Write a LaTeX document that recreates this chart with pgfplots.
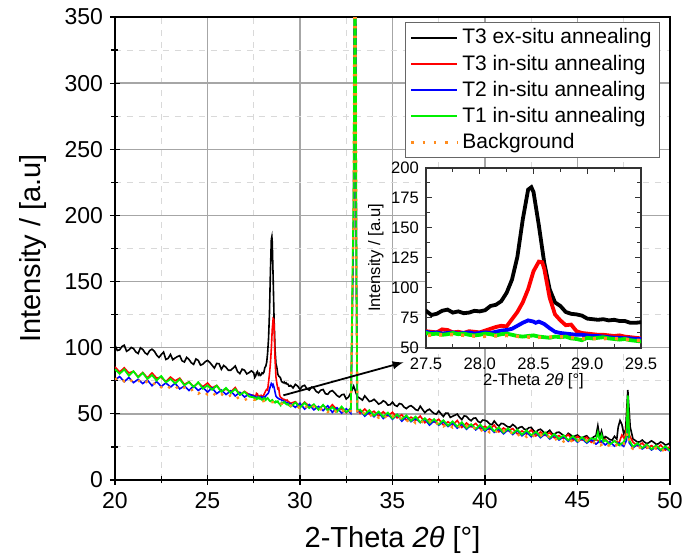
\documentclass[border=0pt]{standalone}
\usepackage{pgfplots}
\usepackage{pgfplotstable}
\pgfplotsset{compat=1.18}
\usepackage{fontspec}
\setmainfont{Liberation Sans}
\definecolor{bgorange}{RGB}{255,140,30}
\definecolor{mygreen}{RGB}{0,240,0}

\pgfplotstableread{
x y
20.000 101.8
20.125 97.9
20.250 98.4
20.375 100.9
20.500 101.9
20.625 97.3
20.750 98.4
20.875 100.2
21.000 99.4
21.125 96.8
21.250 95.6
21.375 99.9
21.500 98.7
21.625 96.1
21.750 94.9
21.875 97.8
22.000 98.9
22.125 97.4
22.250 94.5
22.375 92.6
22.500 94.8
22.625 96.7
22.750 91.1
22.875 92.0
23.000 94.9
23.125 90.9
23.250 92.2
23.375 93.3
23.500 94.0
23.625 90.1
23.750 89.2
23.875 92.7
24.000 91.1
24.125 88.6
24.250 87.4
24.375 91.5
24.500 90.4
24.625 86.8
24.750 87.6
24.875 89.4
25.000 90.4
25.125 88.9
25.250 86.7
25.375 84.6
25.500 88.1
25.625 87.9
25.750 83.7
25.875 86.6
26.000 85.2
26.125 83.0
26.250 82.9
26.375 84.5
26.500 86.2
26.625 82.0
26.750 80.4
26.875 83.8
27.000 83.0
27.125 80.2
27.250 81.2
27.375 82.5
27.50 81
27.55 77.5
27.60 78.5
27.65 81
27.70 82
27.75 79.5
27.80 80.5
27.85 79
27.90 79.5
27.95 81
28.00 80.5
28.05 81.5
28.10 85
28.15 86
28.20 89
28.25 96
28.30 107
28.35 126
28.40 157
28.45 182
28.48 184
28.50 180
28.55 152
28.60 121
28.65 99
28.70 88
28.75 85
28.80 80
28.85 78.5
28.90 78
28.95 77
29.00 74.5
29.05 74
29.10 73.5
29.15 74
29.20 73
29.25 73.5
29.30 72.5
29.35 72.5
29.40 71
29.45 71
29.50 71.5
29.625 69.6
29.750 72.3
29.875 71.0
30.000 68.5
30.125 70.9
30.250 71.6
30.375 69.0
30.500 67.9
30.625 70.2
30.750 69.5
30.875 67.0
31.000 65.9
31.125 67.9
31.250 68.4
31.375 65.2
31.500 64.8
31.625 66.9
31.750 67.6
31.875 65.8
32.000 63.9
32.125 62.7
32.250 64.4
32.375 64.8
32.500 61.2
32.625 62.8
32.750 66.0
32.900 71
33.000 67
33.100 63
33.250 61.7
33.375 60.4
33.500 63.6
33.625 61.5
33.750 59.3
33.875 59.8
34.000 61.0
34.125 59.3
34.250 57.4
34.375 58.2
34.500 59.9
34.625 58.9
34.750 56.6
34.875 56.9
35.000 58.9
35.125 56.5
35.250 55.7
35.375 57.8
35.500 57.3
35.625 55.1
35.750 54.0
35.875 55.5
36.000 56.2
36.125 54.9
36.250 53.2
36.375 52.6
36.500 55.8
36.625 53.3
36.750 50.9
36.875 52.6
37.000 53.5
37.125 51.7
37.250 50.3
37.375 49.8
37.500 52.2
37.625 50.0
37.750 48.0
37.875 50.6
38.000 50.5
38.125 47.3
38.250 48.2
38.375 49.0
38.500 49.8
38.625 47.4
38.750 45.7
38.875 48.5
39.000 48.1
39.125 46.1
39.250 44.8
39.375 46.7
39.500 46.9
39.625 44.3
39.750 43.3
39.875 45.3
40.000 45.1
40.125 44.3
40.250 42.4
40.375 41.8
40.500 44.6
40.625 42.3
40.750 40.7
40.875 42.8
41.000 42.5
41.125 41.2
41.250 40.0
41.375 40.1
41.500 42.0
41.625 40.6
41.750 38.6
41.875 39.8
42.000 40.3
42.125 38.4
42.250 38.1
42.375 39.6
42.500 39.7
42.625 37.4
42.750 36.0
42.875 37.8
43.000 38.4
43.125 36.8
43.250 35.2
43.375 36.2
43.500 37.6
43.625 35.1
43.750 34.4
43.875 35.9
44.000 36.2
44.125 34.9
44.250 33.6
44.375 33.0
44.500 35.3
44.625 34.2
44.750 32.1
44.875 33.4
45.000 34.0
45.125 32.5
45.250 31.5
45.375 32.8
45.500 33.4
45.625 31.4
45.750 31.0
45.875 32.6
46.000 33.5
46.100 41
46.200 32
46.300 37
46.400 31
46.500 32.8
46.625 31.9
46.750 30.5
46.875 30.2
47.000 33.0
47.125 30.9
47.200 40
47.300 45
47.400 42
47.500 35
47.600 38
47.720 68
47.850 40
48.000 31.0
48.125 29.9
48.250 28.6
48.375 28.9
48.500 30.2
48.625 28.6
48.750 27.5
48.875 28.4
49.000 29.6
49.125 28.5
49.250 27.0
49.375 27.4
49.500 28.8
49.625 27.9
49.750 26.4
49.875 27.0
50.000 28.0
}\blackdata

\pgfplotstableread{
x y
20.00 85.5
20.25 81.6
20.50 84.8
20.75 80.9
21.00 82.1
21.25 78.0
21.50 81.3
21.75 77.2
22.00 80.9
22.25 77.0
22.50 77.7
22.75 74.3
23.00 77.8
23.25 75.0
23.50 77.0
23.75 72.3
24.00 74.2
24.25 70.6
24.50 73.5
24.75 70.5
25.00 73.3
25.25 69.6
25.50 71.5
25.75 67.0
26.00 68.7
26.25 66.5
26.50 69.9
26.75 64.3
27.00 67.0
27.25 64.6
27.50 64
27.55 63.5
27.60 63
27.65 65.5
27.70 65
27.75 63
27.80 63.5
27.85 62.5
27.90 64
27.95 63.5
28.00 63
28.05 64.5
28.10 66
28.15 67.5
28.20 68.5
28.25 68
28.30 74
28.35 80
28.40 88
28.45 99
28.50 114
28.55 122
28.58 121.5
28.60 116
28.65 92
28.70 78
28.75 73
28.80 69
28.85 69.5
28.90 64
28.95 62.5
29.00 62
29.05 61.5
29.10 61
29.15 61
29.20 60.5
29.25 60
29.30 60.5
29.35 59.5
29.40 59
29.45 58.5
29.50 58
29.75 59.2
30.00 55.5
30.25 58.9
30.50 55.6
30.75 56.7
31.00 53.4
31.25 56.4
31.50 53.2
31.75 56.9
32.00 53.2
32.25 53.9
32.50 50.9
32.75 54.6
32.90 200
32.95 400
33.00 400
33.05 150
33.10 53.4
33.25 50.3
33.50 53.7
33.75 49.8
34.00 52.0
34.25 48.4
34.50 51.6
34.75 48.4
35.00 51.2
35.25 47.0
35.50 49.3
35.75 45.2
36.00 47.5
36.25 45.1
36.50 48.4
36.75 43.3
37.00 46.2
37.25 43.8
37.50 45.9
37.75 41.6
38.00 44.0
38.25 41.6
38.50 45.0
38.75 39.7
39.00 43.1
39.25 40.2
39.50 42.8
39.75 38.6
40.00 40.6
40.25 38.1
40.50 41.5
40.75 36.4
41.00 39.3
41.25 37.2
41.50 38.9
41.75 34.8
42.00 37.1
42.25 34.7
42.50 37.8
42.75 33.3
43.00 36.3
43.25 33.7
43.50 35.8
43.75 31.9
44.00 33.6
44.25 31.3
44.50 34.4
44.75 29.8
45.00 33.0
45.25 30.2
45.50 32.4
45.75 28.5
46.00 30.6
46.25 28.4
46.50 30.9
46.75 27.2
47.00 29.5
47.25 28.2
47.40 34
47.55 31
47.65 40
47.72 60
47.80 34
48.00 28.6
48.25 25.8
48.50 27.9
48.75 24.1
49.00 26.0
49.25 23.6
49.50 26.4
49.75 22.6
50.00 25.1
}\reddata

\pgfplotstableread{
x y
20.00 75.6
20.25 78.2
20.50 74.3
20.75 77.5
21.00 73.6
21.25 76.1
21.50 72.9
21.75 75.6
22.00 71.3
22.25 74.4
22.50 70.7
22.75 73.4
23.00 70.2
23.25 73.1
23.50 68.9
23.75 71.0
24.00 67.7
24.25 71.0
24.50 67.7
24.75 70.2
25.00 66.4
25.25 69.7
25.50 65.3
25.75 68.0
26.00 64.6
26.25 67.4
26.50 63.5
26.75 66.3
27.00 62.7
27.25 64.9
27.50 63.5
27.55 62.5
27.60 63
27.65 62
27.70 62.5
27.75 63
27.80 62
27.85 62.5
27.90 63
27.95 62
28.00 62.5
28.05 63
28.10 62.5
28.15 63.5
28.20 64.5
28.25 65
28.30 66
28.35 68.5
28.40 71
28.45 73
28.50 72
28.52 71
28.55 72
28.60 70
28.65 66.5
28.70 63.5
28.75 62.5
28.80 62
28.85 61.5
28.90 61
28.95 61
29.00 60.5
29.05 60
29.10 60
29.15 59.5
29.20 59
29.25 58.5
29.30 58.5
29.35 58
29.40 58
29.45 57.5
29.50 57.5
29.75 54.9
30.00 58.0
30.25 53.6
30.50 57.1
30.75 53.0
31.00 55.6
31.25 52.5
31.50 56.1
31.75 51.1
32.00 54.6
32.25 50.6
32.50 53.9
32.75 50.4
32.90 200
32.95 400
33.00 400
33.05 150
33.10 51.5
33.25 52.6
33.50 48.3
33.75 51.5
34.00 47.8
34.25 51.2
34.50 46.5
34.75 49.6
35.00 46.0
35.25 49.4
35.50 44.5
35.75 47.9
36.00 44.1
36.25 46.6
36.50 43.4
36.75 46.0
37.00 41.5
37.25 44.7
37.50 41.4
37.75 44.1
38.00 40.4
38.25 43.1
38.50 39.2
38.75 42.4
39.00 38.4
39.25 41.6
39.50 37.9
39.75 40.9
40.00 36.8
40.25 39.9
40.50 36.0
40.75 38.6
41.00 34.9
41.25 38.0
41.50 34.4
41.75 37.5
42.00 33.4
42.25 36.3
42.50 32.7
42.75 35.9
43.00 32.0
43.25 34.8
43.50 31.0
43.75 34.0
44.00 30.2
44.25 32.9
44.50 29.3
44.75 32.1
45.00 28.6
45.25 31.3
45.50 27.9
45.75 30.6
46.00 27.1
46.25 29.9
46.50 26.5
46.75 29.0
47.00 25.6
47.25 28.2
47.50 25.4
47.65 30
47.72 42
47.80 28
48.00 24.3
48.25 26.9
48.50 23.5
48.75 25.9
49.00 22.7
49.25 25.0
49.50 22.1
49.75 24.4
50.00 21.6
}\bluedata

\pgfplotstableread{
x y
20.00 83.7
20.25 80.3
20.50 83.6
20.75 78.9
21.00 82.2
21.25 77.6
21.50 80.9
21.75 76.4
22.00 79.3
22.25 75.2
22.50 78.6
22.75 73.8
23.00 76.4
23.25 72.9
23.50 76.2
23.75 71.6
24.00 74.0
24.25 70.2
24.50 73.9
24.75 69.1
25.00 71.5
25.25 68.2
25.50 71.3
25.75 66.6
26.00 69.6
26.25 65.8
26.50 68.7
26.75 64.4
27.00 66.6
27.25 63.1
27.50 62.5
27.55 61.5
27.60 62
27.65 61
27.70 61.5
27.75 62.5
27.80 61.5
27.85 62
27.90 61
27.95 60.5
28.00 61
28.05 62
28.10 61.5
28.15 60.5
28.20 61.5
28.25 62
28.30 61
28.35 60
28.40 59.5
28.45 60
28.50 60.5
28.55 59.5
28.60 59
28.65 58.5
28.70 59.5
28.75 59
28.80 59.5
28.85 58
28.90 57.5
28.95 56.5
29.00 58.5
29.05 58
29.10 58.5
29.15 59
29.20 58
29.25 57.5
29.30 57
29.35 57.5
29.40 56.5
29.45 56
29.50 55.5
29.75 58.6
30.00 54.8
30.25 58.3
30.50 54.4
30.75 57.2
31.00 53.1
31.25 56.8
31.50 52.5
31.75 55.1
32.00 51.6
32.25 55.5
32.50 51.3
32.75 54.0
32.90 220
32.95 400
33.00 400
33.05 160
33.10 52.9
33.25 53.2
33.50 49.4
33.75 52.8
34.00 48.6
34.25 51.7
34.50 47.7
34.75 50.9
35.00 46.6
35.25 49.5
35.50 45.9
35.75 48.8
36.00 44.7
36.25 47.9
36.50 43.6
36.75 46.7
37.00 42.9
37.25 46.0
37.50 42.0
37.75 45.2
38.00 41.1
38.25 44.3
38.50 40.4
38.75 43.6
39.00 39.2
39.25 42.1
39.50 38.6
39.75 41.8
40.00 37.8
40.25 40.9
40.50 36.9
40.75 39.7
41.00 35.8
41.25 39.0
41.50 35.2
41.75 38.1
42.00 34.3
42.25 37.5
42.50 33.8
42.75 36.5
43.00 32.9
43.25 35.9
43.50 31.8
43.75 34.8
44.00 31.0
44.25 33.8
44.50 30.1
44.75 33.2
45.00 29.4
45.25 32.3
45.50 28.8
45.75 31.6
46.00 30.5
46.10 36
46.20 30
46.30 34
46.40 29
46.50 30.2
46.75 26.9
47.00 29.6
47.25 26.2
47.50 28.8
47.65 33
47.72 64
47.80 30
48.00 25.1
48.25 27.8
48.50 24.2
48.75 26.9
49.00 23.3
49.25 26.1
49.50 22.8
49.75 25.4
50.00 22.1
}\greendata

\pgfplotstableread{
x y
20.00 76.0
20.25 77.8
20.50 74.6
20.75 76.9
21.00 73.5
21.25 75.5
21.50 72.2
21.75 74.6
22.00 71.8
22.25 73.9
22.50 70.1
22.75 72.0
23.00 69.2
23.25 71.3
23.50 67.6
23.75 69.9
24.00 66.9
24.25 68.8
24.50 65.2
24.75 67.5
25.00 64.6
25.25 66.6
25.50 63.0
25.75 65.1
26.00 62.2
26.25 64.0
26.50 61.1
26.75 63.0
27.00 60.4
27.25 62.1
27.50 60.5
27.75 61.2
28.00 59.6
28.25 60.4
28.50 58.8
28.75 59.4
29.00 57.6
29.25 58.0
29.50 56.2
29.75 57.3
30.00 53.9
30.25 56.4
30.50 53.1
30.75 55.5
31.00 52.2
31.25 54.8
31.50 51.4
31.75 54.0
32.00 50.8
32.25 53.2
32.50 49.9
32.75 52.4
32.90 200
32.95 400
33.00 400
33.05 150
33.10 51.0
33.25 48.9
33.50 51.3
33.75 48.0
34.00 50.4
34.25 47.1
34.50 49.6
34.75 46.0
35.00 48.5
35.25 45.1
35.50 47.6
35.75 44.2
36.00 46.5
36.25 43.0
36.50 45.4
36.75 42.2
37.00 44.6
37.25 41.1
37.50 43.7
37.75 40.5
38.00 42.8
38.25 39.6
38.50 41.9
38.75 38.5
39.00 41.0
39.25 37.7
39.50 40.1
39.75 36.9
40.00 39.2
40.25 36.0
40.50 38.4
40.75 34.8
41.00 37.3
41.25 34.1
41.50 36.6
41.75 33.4
42.00 35.7
42.25 32.6
42.50 35.1
42.75 31.9
43.00 34.3
43.25 31.0
43.50 33.4
43.75 30.1
44.00 32.2
44.25 29.1
44.50 31.5
44.75 28.4
45.00 30.8
45.25 27.7
45.50 30.0
45.75 26.9
46.00 29.3
46.25 26.2
46.50 28.6
46.75 25.4
47.00 27.7
47.25 24.7
47.50 27.0
47.72 36
47.85 25.5
48.00 23.6
48.25 25.9
48.50 22.9
48.75 25.1
49.00 22.2
49.25 24.4
49.50 21.5
49.75 23.6
50.00 21.3
}\orangedata

\begin{document}
\begin{tikzpicture}
\begin{axis}[
  at={(0,0)}, anchor=south west,
  scale only axis, width=277.5pt, height=231.5pt,
  xmin=20, xmax=50, ymin=0, ymax=350,
  xtick={20,25,...,50}, ytick={0,50,...,350},
  minor x tick num=1, minor y tick num=1,
  xtick pos=bottom, ytick pos=left,
  tick align=center,
  major tick length=5pt, minor tick length=3.5pt,
  every tick/.style={black, line width=0.6pt},
  grid=both,
  major grid style={gray!70, line width=0.7pt},
  minor grid style={gray!30, dashed, line width=0.5pt},
  axis line style={line width=0.8pt},
  tick label style={font=\fontsize{11.5}{13}\selectfont},
  /pgf/number format/assume math mode=true,
  xlabel={2-Theta \textit{2θ} [°]},
  ylabel={Intensity / [a.u]},
  label style={font=\fontsize{14.5}{17}\selectfont},
  xlabel style={yshift=-2pt},
  ylabel style={yshift=2pt},
  legend cell align=left,
  legend style={at={(rel axis cs:0.982,0.989)}, anchor=north east,
    font=\fontsize{10.5}{12}\selectfont, draw=black!60, line width=0.5pt,
    row sep=0pt, inner xsep=2pt, inner ysep=1pt},
  legend image code/.code={\draw[#1, line width=1.1pt, solid] (0pt,0pt) -- (23pt,0pt);},
]
\addplot[black, line width=0.8pt] table {\blackdata};
\addlegendentry{T3 ex-situ annealing}
\addplot[red, line width=0.8pt] table {\reddata};
\addlegendentry{T3 in-situ annealing}
\addplot[blue, line width=0.8pt] table {\bluedata};
\addlegendentry{T2 in-situ annealing}
\addplot[mygreen, line width=0.9pt] table {\greendata};
\addlegendentry{T1 in-situ annealing}
\addplot[bgorange, line width=1.2pt, dash pattern=on 1.2pt off 3.6pt,
  legend image code/.code={\draw[bgorange, line width=1.2pt, dash pattern=on 1.2pt off 4.5pt] (0pt,0pt) -- (23pt,0pt);}] table {\orangedata};
\addlegendentry{Background}
\draw[black, line width=0.9pt, -latex] (axis cs:29.1,64) -- (axis cs:35.6,89);
\end{axis}

\begin{axis}[
  at={(155.5pt,66pt)}, anchor=south west,
  scale only axis, width=107.5pt, height=90pt,
  xmin=27.5, xmax=29.5, ymin=50, ymax=200,
  xtick={27.5,28,...,29.5}, ytick={50,75,...,200},
  minor x tick num=1, minor y tick num=1,
  tick align=inside,
  major tick length=3pt, minor tick length=1.8pt,
  every tick/.style={black!80, line width=0.5pt},
  axis line style={black!80, line width=0.6pt},
  axis background/.style={fill=white},
  tick label style={font=\fontsize{8.3}{10}\selectfont},
  xticklabel style={yshift=-1.5pt, /pgf/number format/.cd, fixed, fixed zerofill, precision=1},
  /pgf/number format/assume math mode=true,
  xlabel={2-Theta \textit{2θ} [°]},
  ylabel={Intensity / [a.u]},
  label style={font=\fontsize{8.3}{10}\selectfont},
  xlabel style={yshift=5pt},
  ylabel style={yshift=-3pt},
]
\addplot[black, line width=1.9pt] table {\blackdata};
\addplot[red, line width=1.9pt] table {\reddata};
\addplot[blue, line width=1.9pt] table {\bluedata};
\addplot[mygreen, line width=1.9pt] table {\greendata};
\addplot[bgorange, line width=1.7pt, dash pattern=on 1.5pt off 4pt] table {\orangedata};
\end{axis}
\pgfresetboundingbox
\path[use as bounding box] (-57.5pt,-39pt) rectangle (291.5pt,240pt);
\end{tikzpicture}
\end{document}
